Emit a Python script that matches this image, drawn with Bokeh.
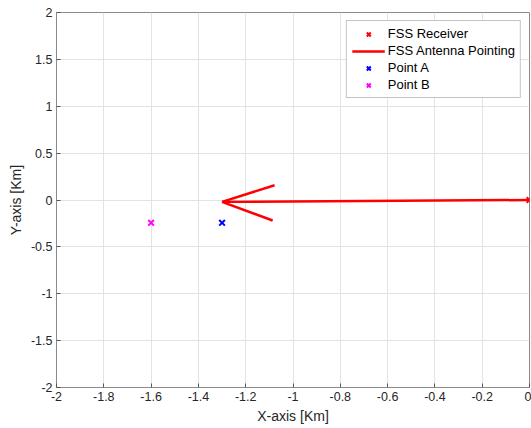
from bokeh.plotting import figure
from bokeh.models import Range1d, FixedTicker, CustomJSTickFormatter, Legend, LegendItem
from bokeh.embed import file_html
from bokeh.resources import INLINE

# Data
receiver_x = [0.0]
receiver_y = [0.0]
shaft_x = [0.0, -1.3]
shaft_y = [0.0, -0.02]
head_upper_x = [-1.3, -1.078]
head_upper_y = [-0.02, 0.158]
head_lower_x = [-1.3, -1.086]
head_lower_y = [-0.02, -0.219]
point_a_x = [-1.3]
point_a_y = [-0.243]
point_b_x = [-1.6]
point_b_y = [-0.243]
x_ticks = [-2, -1.8, -1.6, -1.4, -1.2, -1, -0.8, -0.6, -0.4, -0.2, 0]
y_ticks = [-2, -1.5, -1, -0.5, 0, 0.5, 1, 1.5, 2]

FONT = "Liberation Sans"

p = figure(width=531, height=428, output_backend="svg", toolbar_location=None,
           x_range=Range1d(-2, 0), y_range=Range1d(-2, 2))
p.min_border_left = 56
p.min_border_right = 2
p.min_border_top = 12
p.min_border_bottom = 41
p.background_fill_color = "white"
p.border_fill_color = "white"
p.outline_line_color = "#8a8a8a"
p.outline_line_width = 1

fmt = CustomJSTickFormatter(code="return Number(tick.toFixed(2)).toString();")
for ax, ticks in ((p.xaxis[0], x_ticks), (p.yaxis[0], y_ticks)):
    ax.ticker = FixedTicker(ticks=ticks)
    ax.formatter = fmt
    ax.major_tick_in = 4
    ax.major_tick_out = 0
    ax.minor_tick_line_color = None
    ax.axis_line_color = None
    ax.major_tick_line_color = "#555555"
    ax.major_label_text_font = FONT
    ax.major_label_text_font_size = "12.5px"
    ax.major_label_text_color = "#262626"
    ax.axis_label_text_font = FONT
    ax.axis_label_text_font_size = "14px"
    ax.axis_label_text_font_style = "normal"
    ax.axis_label_text_color = "#262626"
    ax.major_label_standoff = 4
    ax.axis_label_standoff = 4

p.xaxis.axis_label = "X-axis [Km]"
p.yaxis.axis_label = "Y-axis [Km]"

p.xgrid.ticker = FixedTicker(ticks=x_ticks)
p.ygrid.ticker = FixedTicker(ticks=y_ticks)
p.grid.grid_line_color = "#e3e3e3"
p.grid.grid_line_width = 1

r_recv = p.scatter(receiver_x, receiver_y, marker="x", size=8, line_width=2, color="red")
r_shaft = p.line(shaft_x, shaft_y, line_width=2.5, color="red")
p.line(head_upper_x, head_upper_y, line_width=2.5, color="red")
p.line(head_lower_x, head_lower_y, line_width=2.5, color="red")
r_a = p.scatter(point_a_x, point_a_y, marker="x", size=8, line_width=2, color="blue")
r_b = p.scatter(point_b_x, point_b_y, marker="x", size=8, line_width=2, color="magenta")

legend = Legend(items=[
    LegendItem(label="FSS Receiver", renderers=[r_recv]),
    LegendItem(label="FSS Antenna Pointing", renderers=[r_shaft]),
    LegendItem(label="Point A", renderers=[r_a]),
    LegendItem(label="Point B", renderers=[r_b]),
], location="top_right")
legend.margin = 8
legend.padding = 5
legend.spacing = 2
legend.glyph_height = 14
legend.glyph_width = 33
legend.label_height = 14
legend.label_standoff = 3
legend.label_text_font = FONT
legend.label_text_font_size = "13px"
legend.label_text_color = "#000000"
legend.border_line_color = "#8a8a8a"
legend.border_line_width = 1
legend.background_fill_color = "white"
legend.background_fill_alpha = 1
p.add_layout(legend, "center")

open("out.html", "w").write(file_html(p, INLINE))
